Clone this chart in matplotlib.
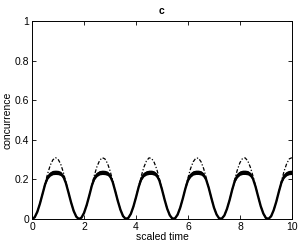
import numpy as np
import matplotlib
matplotlib.use('Agg')
import matplotlib.pyplot as plt

plt.rcParams['font.family'] = ['Liberation Sans', 'DejaVu Sans']

# scaled time, sampled every 0.1
t = np.arange(0, 101) / 10.0

# dash-dot curve
dashed = [0.000, 0.009, 0.036, 0.077, 0.126, 0.180, 0.230, 0.272, 0.299, 0.310,
          0.302, 0.278, 0.237, 0.188, 0.134, 0.084, 0.041, 0.012, 0.000, 0.007,
          0.031, 0.070, 0.119, 0.172, 0.223, 0.266, 0.296, 0.310, 0.304, 0.282,
          0.244, 0.195, 0.142, 0.091, 0.047, 0.015, 0.001, 0.005, 0.026, 0.063,
          0.111, 0.164, 0.216, 0.261, 0.293, 0.309, 0.306, 0.286, 0.251, 0.203,
          0.150, 0.098, 0.052, 0.019, 0.002, 0.003, 0.022, 0.057, 0.103, 0.156,
          0.208, 0.255, 0.289, 0.307, 0.308, 0.290, 0.256, 0.210, 0.158, 0.106,
          0.058, 0.023, 0.003, 0.002, 0.018, 0.051, 0.095, 0.148, 0.201, 0.248,
          0.285, 0.306, 0.309, 0.294, 0.262, 0.218, 0.167, 0.114, 0.065, 0.028,
          0.005, 0.001, 0.014, 0.045, 0.088, 0.140, 0.193, 0.242, 0.280, 0.304,
          0.310]

# thick solid curve
solid = [0.000, 0.009, 0.036, 0.077, 0.126, 0.175, 0.211, 0.228, 0.235, 0.236,
         0.235, 0.230, 0.215, 0.182, 0.134, 0.084, 0.041, 0.012, 0.000, 0.007,
         0.031, 0.070, 0.118, 0.169, 0.207, 0.226, 0.234, 0.236, 0.235, 0.231,
         0.218, 0.188, 0.141, 0.091, 0.047, 0.015, 0.001, 0.005, 0.026, 0.063,
         0.110, 0.161, 0.202, 0.225, 0.233, 0.236, 0.236, 0.232, 0.221, 0.194,
         0.149, 0.098, 0.052, 0.019, 0.002, 0.003, 0.022, 0.057, 0.103, 0.154,
         0.197, 0.222, 0.233, 0.236, 0.236, 0.233, 0.223, 0.199, 0.157, 0.106,
         0.058, 0.023, 0.003, 0.002, 0.018, 0.051, 0.095, 0.147, 0.192, 0.220,
         0.232, 0.236, 0.236, 0.234, 0.225, 0.204, 0.164, 0.114, 0.065, 0.028,
         0.005, 0.001, 0.014, 0.045, 0.088, 0.139, 0.186, 0.217, 0.230, 0.235,
         0.236]

xticks = [0, 2, 4, 6, 8, 10]
yticks = [0, 0.2, 0.4, 0.6, 0.8, 1]
yticklabels = ['0', '0.2', '0.4', '0.6', '0.8', '1']

solid = np.array(solid)
# the solid line gets fuzzy near its plateau
spread = 0.011 * np.clip((solid - 0.17) / 0.05, 0, 1)

fig = plt.figure(figsize=(3.0, 2.45), dpi=100)
ax = fig.add_axes([0.107, 0.106, 0.866, 0.808])

ax.fill_between(t, solid - spread, solid + spread, color='black', lw=0)
ax.plot(t, solid, color='black', lw=1.7)
ax.plot(t, dashed, color='black', lw=0.9, linestyle=(0, (3, 1.5, 1, 1.5)))

ax.set_xlim(0, 10)
ax.set_ylim(0, 1)
ax.set_xticks(xticks)
ax.set_yticks(yticks)
ax.set_yticklabels(yticklabels)
ax.tick_params(direction='in', length=3, width=0.6, labelsize=7.5,
               top=True, right=True, pad=2)
for sp in ax.spines.values():
    sp.set_linewidth(0.7)

ax.set_xlabel('scaled time', fontsize=7.5, labelpad=0)
ax.set_ylabel('concurrence', fontsize=7.5, labelpad=2)
ax.set_title('c', fontsize=7.5, fontweight='bold', pad=5)

fig.savefig('out.png', dpi=100)
